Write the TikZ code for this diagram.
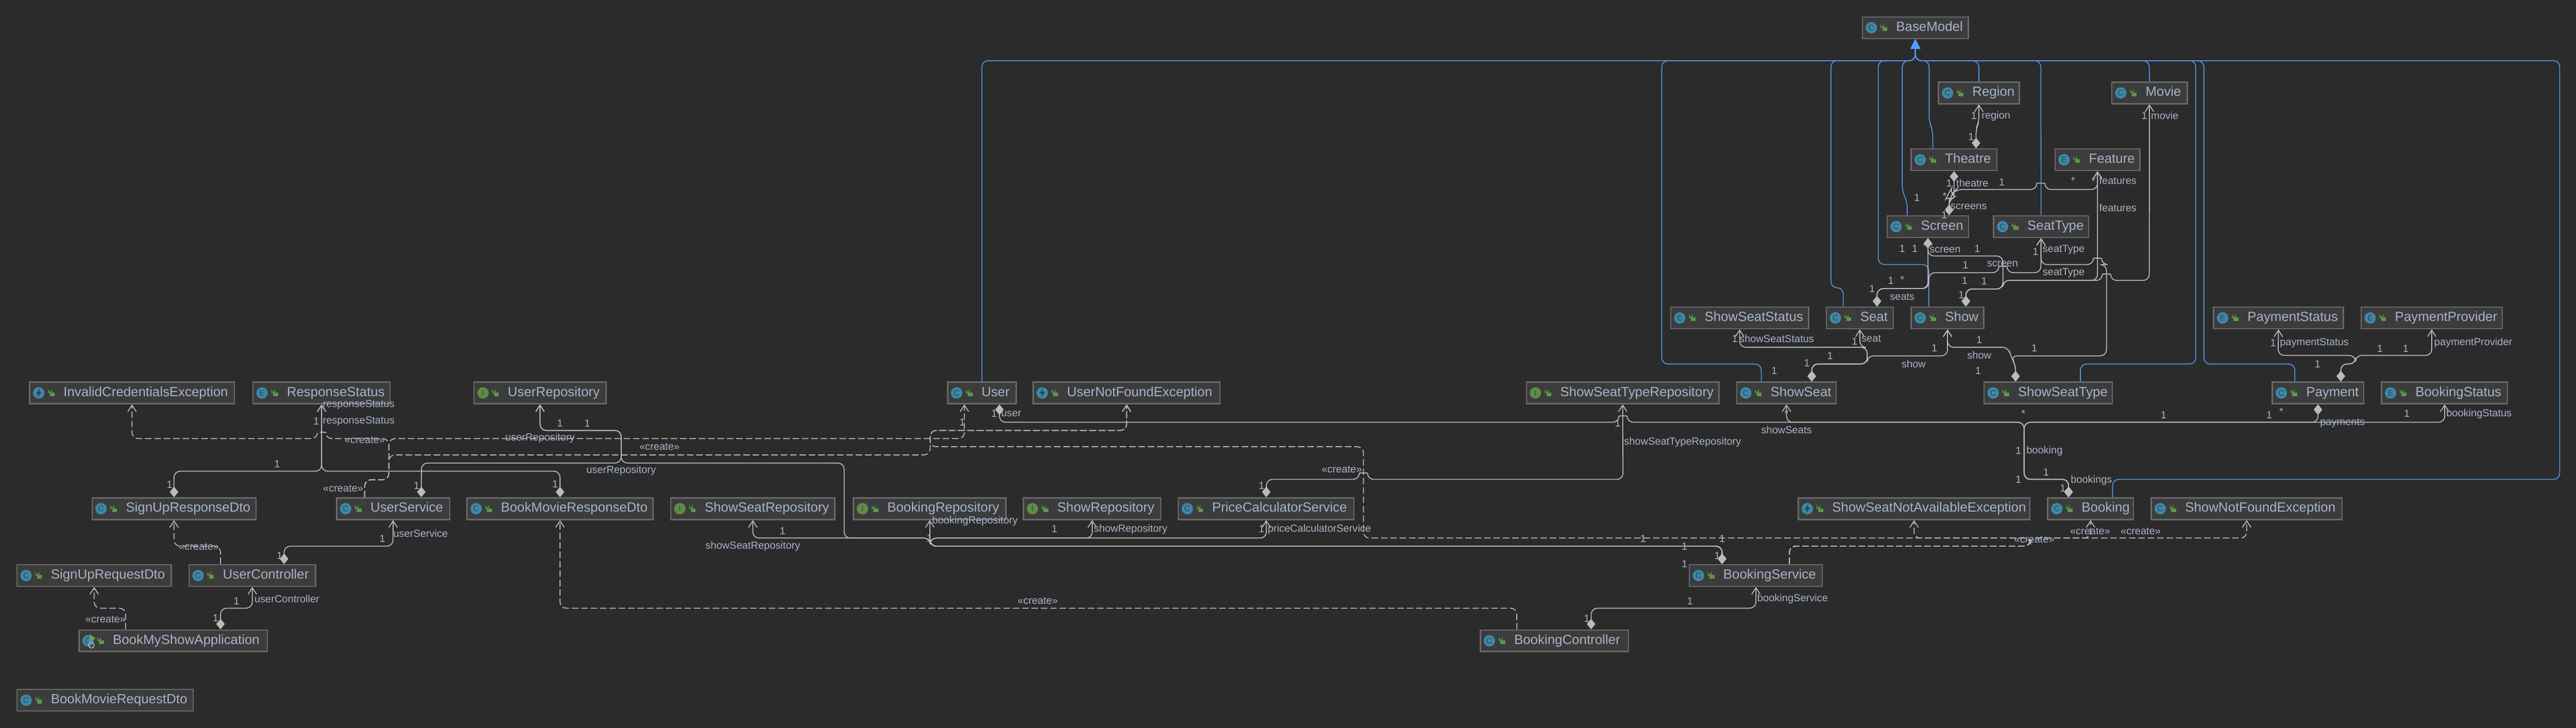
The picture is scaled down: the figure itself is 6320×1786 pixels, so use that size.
\documentclass[tikz,border=0pt]{standalone}
\usepackage{fontspec}
\setmainfont{Liberation Sans}
\usetikzlibrary{arrows.meta,calc}

\definecolor{canvas}{HTML}{2B2B2B}
\definecolor{boxfill}{HTML}{3C3C3C}
\definecolor{boxline}{HTML}{696969}
\definecolor{boxrule}{HTML}{363636}
\definecolor{ink}{HTML}{A6B4C8}
\definecolor{edgegrey}{HTML}{BBBBBB}
\definecolor{extblue}{HTML}{549DF8}
\definecolor{kindteal}{HTML}{3E88A6}
\definecolor{kindgreen}{HTML}{5F8C45}
\definecolor{kinddark}{HTML}{23485A}
\definecolor{lockgreen}{HTML}{5A9A47}

\newcommand{\hop}[3]{-- (#1,#3) .. controls (#1,#3-16) and (#2,#3-16) .. (#2,#3)}
\newcommand{\kindtextC}{C}
\newcommand{\kindtextE}{E}
\newcommand{\kindtextI}{I}
\newcommand{\kindtextX}{}

\tikzset{
    cls/.style={draw=boxline,fill=boxfill,line width=0.03cm,minimum height=0.53cm,inner xsep=0pt,inner ysep=0pt,
        align=left,text=ink,font=\fontsize{9.3}{11}\selectfont,text height=0.235cm,text depth=0.07cm},
    lbl/.style={text=ink,font=\fontsize{7.2}{9}\selectfont,inner sep=0pt},
    kicon/.style={circle,minimum size=0.28cm,inner sep=0pt,text=kinddark,font=\fontsize{5.6}{6}\selectfont},
    kindC/.style={fill=kindteal},
    kindE/.style={fill=kindteal},
    kindI/.style={fill=kindgreen},
    kindX/.style={fill=kindteal,path picture={
        \fill[kinddark,shift={(path picture bounding box.center)}] (3,-12) -- (-7,2) -- (-1,2) -- (-3,12) -- (7,-3) -- (1,-3) -- cycle;}},
    lock/.style={draw=lockgreen,line width=0.02cm},
    ext/.style={draw=extblue,line width=0.02cm,rounded corners=0.15cm,-{Triangle[length=0.24cm,width=0.24cm]}},
    comp/.style={draw=edgegrey,line width=0.022cm,rounded corners=0.15cm,
        {Diamond[length=0.26cm,width=0.21cm]}-{Straight Barb[length=0.16cm,width=0.21cm]}},
    both/.style={draw=edgegrey,line width=0.022cm,rounded corners=0.15cm,
        {Diamond[length=0.26cm,width=0.21cm]}-{Diamond[length=0.26cm,width=0.21cm]}},
    dep/.style={draw=edgegrey,line width=0.022cm,rounded corners=0.15cm,dash pattern=on 0.16cm off 0.07cm,
        -{Straight Barb[length=0.16cm,width=0.21cm]}},
}

\begin{document}
\begin{tikzpicture}[x=0.01cm,y=-0.01cm]
    \useasboundingbox[fill=canvas] (0,0) rectangle (6320,1786);

    \foreach \name/\xa/\xb/\cy/\k in {
        BaseModel/4568/4830/68/C, Region/4755/4955/228/C, Movie/5180/5367/228/C,
        Theatre/4688/4900/392/C, Feature/5041/5251/392/E, Screen/4629/4831/556/C, SeatType/4890/5125/556/C,
        ShowSeatStatus/4098/4438/780/E, Seat/4480/4646/780/C, Show/4688/4868/780/C,
        PaymentStatus/5430/5750/780/E, PaymentProvider/5792/6140/780/E,
        InvalidCredentialsException/72/576/964/X, ResponseStatus/620/958/964/E, UserRepository/1162/1488/964/I,
        User/2324/2494/964/C, UserNotFoundException/2534/2994/964/X, ShowSeatTypeRepository/3744/4218/964/I,
        ShowSeat/4260/4506/964/C, ShowSeatType/4867/5183/964/C, Payment/5574/5800/964/C, BookingStatus/5842/6153/964/E,
        SignUpResponseDto/225/629/1248/C, UserService/825/1104/1248/C, BookMovieResponseDto/1145/1603/1248/C,
        ShowSeatRepository/1645/2049/1248/I, BookingRepository/2093/2469/1248/I, ShowRepository/2510/2849/1248/I,
        PriceCalculatorService/2890/3323/1248/C, ShowSeatNotAvailableException/4411/4981/1248/X,
        Booking/5023/5235/1248/C, ShowNotFoundException/5277/5747/1248/C,
        SignUpRequestDto/41/421/1412/C, UserController/463/775/1412/C, BookingService/4144/4472/1412/C,
        BookMyShowApplication/193/657/1572/C, BookingController/3631/3996/1572/C, BookMovieRequestDto/41/475/1718/C} {
        \pgfmathsetmacro{\w}{(\xb-\xa-2)*0.28453}
        \node[cls,text width=\w pt,minimum width=\w pt] (\name) at ({(\xa+\xb)/2},\cy) {\hspace*{0.83cm}\name};
        \draw[boxrule,line width=0.01cm] (\xa+76,\cy-25) -- (\xa+76,\cy+25);
        \node[kicon,kind\k] (\name-icon) at (\xa+23,\cy) {\csname kindtext\k\endcsname};
        \fill[lockgreen] (\xa+50,\cy-1) rectangle (\xa+62,\cy+8);
        \draw[lock] (\xa+47,\cy+1) -- (\xa+47,\cy-5) arc[start angle=180,end angle=0,x radius=3.5,y radius=3.5] -- (\xa+54,\cy-2);
    }
    \fill[lockgreen!90!white] (BookMyShowApplication-icon.center) ++(4,-16) -- ++(14,10) -- ++(-14,10) -- cycle;
    \draw[edgegrey,line width=0.02cm] (BookMyShowApplication-icon.center) ++(8,11) circle[radius=7];

    % inheritance
    \draw[ext] (User.north) -- (2409,149) -- (4699,149) -- (BaseModel.south);
    \draw[ext] ($(ShowSeat.north)+(-62,0)$) -- (4321,893) -- (4077,893) -- (4077,149) -- (4699,149) -- (BaseModel.south);
    \draw[ext] ($(Seat.north)+(-41,0)$) -- (4522,706) -- (4492,706) -- (4492,149) -- (4699,149) -- (BaseModel.south);
    \draw[ext] ($(Show.north)+(-46,0)$) -- (4732,649) -- (4608,649) -- (4608,149) -- (4699,149) -- (BaseModel.south);
    \draw[ext] ($(Screen.north)+(-51,0)$) -- (4679,495) -- (4667,470) -- (4667,149) -- (4699,149) -- (BaseModel.south);
    \draw[ext] ($(Theatre.north)+(-52,0)$) -- (4742,320) -- (4733,300) -- (4733,149) -- (4699,149) -- (BaseModel.south);
    \draw[ext] (Region.north) -- (4855,149) -- (4699,149) -- (BaseModel.south);
    \draw[ext] (SeatType.north) -- (5007,149) -- (4699,149) -- (BaseModel.south);
    \draw[ext] (Movie.north) -- (5273,149) -- (4699,149) -- (BaseModel.south);
    \draw[ext] ($(ShowSeatType.north)+(79,0)$) -- (5104,893) -- (5387,893) -- (5387,149) -- (4699,149) -- (BaseModel.south);
    \draw[ext] ($(Payment.north)+(-57,0)$) -- (5630,893) -- (5407,893) -- (5407,149) -- (4699,149) -- (BaseModel.south);
    \draw[ext] ($(Booking.north)+(54,0)$) -- (5183,1176) -- (6280,1176) -- (6280,149) -- (4699,149) -- (BaseModel.south);

    % fields, upper group
    \draw[comp] ($(Theatre.north)+(54,0)$) -- (4848,315) -- (4855,300) -- (Region.south);
    \draw[both] (Theatre.south) -- (4794,468) .. controls (4794,490) and (4776,484) .. (4780,475) .. controls (4785,467) and (4792,484) .. (4783,488) -- (4782,500) -- ($(Screen.north)+(52,0)$);
    \draw[comp] ($(Screen.north)+(52,0)$) -- (4782,490) -- (4794,470) -- (4799,465) \hop{4997}{5017}{465} -- (5146,465) -- (Feature.south);
    \draw[comp] ($(Show.north)+(45,0)$) -- (4823,709) -- (4914,709) -- (4914,688) -- (5146,688) -- (Feature.south);
    \draw[comp] ($(Show.north)+(45,0)$) -- (4823,709) -- (4914,709) -- (4914,688) \hop{5158}{5178}{688} -- (5273,688) -- (Movie.south);
    \draw[comp] ($(Show.north)+(45,0)$) -- (4823,709) -- (4914,709) -- (4914,628) -- (4730,628) -- (Screen.south);
    \draw[both] ($(Seat.north)+(42,0)$) -- (4605,708) -- (4730,708) -- (Screen.south);
    \draw[comp] ($(Seat.north)+(42,0)$) -- (4605,708) -- (4732,708) -- (4732,669) \hop{4904}{4924}{669} -- (5007,669) -- (SeatType.south);
    \draw[comp] ($(ShowSeatType.north)+(-80,0)$) -- (4945,895) -- (4933,873) -- (5168,873) -- (5168,649) \hop{5156}{5136}{649} -- (5007,649) -- (SeatType.south);
    \draw[comp] ($(ShowSeatType.north)+(-80,0)$) -- (4945,895) -- (4933,875) -- (4928,852) -- (4778,852) -- (Show.south);
    \draw[comp] ($(ShowSeat.north)+(62,0)$) -- (4445,893) -- (4581,893) -- (4581,873) -- (4778,873) -- (Show.south);
    \draw[comp] ($(ShowSeat.north)+(62,0)$) -- (4445,893) -- (4581,893) -- (4581,852) -- (4563,852) -- (Seat.south);
    \draw[comp] ($(ShowSeat.north)+(62,0)$) -- (4445,893) -- (4581,893) -- (4581,852) -- (4268,852) -- (ShowSeatStatus.south);
    \draw[comp] ($(Payment.north)+(56,0)$) -- (5743,893) -- (5779,893) -- (5779,872) -- (5589,872) -- (PaymentStatus.south);
    \draw[comp] ($(Payment.north)+(56,0)$) -- (5743,893) -- (5779,893) -- (5779,872) -- (5966,872) -- (PaymentProvider.south);

    % fields, lower group
    \draw[comp] ($(Booking.north)+(-54,0)$) -- (5075,1176) -- (4966,1176) -- (4966,1036) -- (5998,1036) -- (BookingStatus.south);
    \draw[both] ($(Booking.north)+(-54,0)$) -- (5075,1176) -- (4966,1176) -- (4966,1036) -- (5687,1036) -- (Payment.south);
    \draw[comp] ($(Booking.north)+(-54,0)$) -- (5075,1176) -- (4966,1176) -- (4966,1036) -- (4383,1036) -- (ShowSeat.south);
    \draw[both] ($(Booking.north)+(-54,0)$) -- (5075,1176) -- (4966,1176) -- (4966,1036) \hop{3992}{3972}{1036} -- (2452,1036) -- ($(User.south)+(43,0)$);
    \draw[comp] (PriceCalculatorService.north) -- (3107,1176) \hop{3335}{3355}{1176} -- (3982,1176) -- (ShowSeatTypeRepository.south);
    \draw[comp] ($(BookingService.north)+(-83,0)$) -- (4225,1340) -- (2282,1340) -- (BookingRepository.south);
    \draw[comp] ($(BookingService.north)+(-83,0)$) -- (4225,1340) -- (2282,1340) -- (2282,1320) -- (2680,1320) -- (ShowRepository.south);
    \draw[comp] ($(BookingService.north)+(-83,0)$) -- (4225,1340) -- (2282,1340) -- (2282,1320) -- (3107,1320) -- (PriceCalculatorService.south);
    \draw[comp] ($(BookingService.north)+(-83,0)$) -- (4225,1340) -- (2282,1340) -- (2282,1320) -- (1847,1320) -- (ShowSeatRepository.south);
    \draw[comp] ($(BookingService.north)+(-83,0)$) -- (4225,1340) -- (2282,1340) -- (2282,1320) -- (2071,1320) -- (2071,1136) -- (1524,1136) -- (1524,1056) -- (1325,1056) -- (UserRepository.south);
    \draw[comp] ($(UserService.north)+(69,0)$) -- (1034,1136) -- (1524,1136) -- (1524,1056) -- (1325,1056) -- (UserRepository.south);
    \draw[comp] (SignUpResponseDto.north) -- (427,1156) -- (789,1156) -- (ResponseStatus.south);
    \draw[comp] (BookMovieResponseDto.north) -- (1374,1156) -- (789,1156) -- (ResponseStatus.south);
    \draw[comp] ($(UserController.north)+(78,0)$) -- (697,1340) -- (964,1340) -- (UserService.south);
    \draw[comp] ($(BookMyShowApplication.north)+(116,0)$) -- (541,1492) -- (619,1492) -- (UserController.south);
    \draw[comp] ($(BookingController.north)+(90,0)$) -- (3904,1492) -- (4308,1492) -- (BookingService.south);

    % create dependencies
    \draw[dep] ($(UserService.north)+(-70,0)$) -- (895,1177) -- (954,1177) -- (954,1076) \hop{799}{779}{1076} -- (324,1076) -- (InvalidCredentialsException.south);
    \draw[dep] ($(UserService.north)+(-70,0)$) -- (895,1177) -- (954,1177) -- (954,1076) -- (2366,1076) -- ($(User.south)+(-43,0)$);
    \draw[dep] ($(UserService.north)+(-70,0)$) -- (895,1177) -- (954,1177) -- (954,1116) -- (2282,1116) -- (2282,1056) -- (2764,1056) -- (UserNotFoundException.south);
    \draw[dep] ($(BookingService.north)+(82,0)$) -- (4390,1340) -- (4981,1340) -- (4981,1320) -- (3345,1320) -- (3345,1096) -- (2282,1096) -- (2282,1056) -- (2764,1056) -- (UserNotFoundException.south);
    \draw[dep] ($(BookingService.north)+(82,0)$) -- (4390,1340) -- (4981,1340) -- (4981,1320) -- (4696,1320) -- (ShowSeatNotAvailableException.south);
    \draw[dep] ($(BookingService.north)+(82,0)$) -- (4390,1340) -- (4981,1340) -- (4981,1320) -- (5129,1320) -- (Booking.south);
    \draw[dep] ($(BookingService.north)+(82,0)$) -- (4390,1340) -- (4981,1340) -- (4981,1320) -- (5512,1320) -- (ShowNotFoundException.south);
    \draw[dep] ($(BookingController.north)+(-92,0)$) -- (3721,1492) -- (1374,1492) -- (BookMovieResponseDto.south);
    \draw[dep] ($(UserController.north)+(-78,0)$) -- (541,1340) -- (427,1340) -- (SignUpResponseDto.south);
    \draw[dep] ($(BookMyShowApplication.north)+(-117,0)$) -- (308,1492) -- (231,1492) -- (SignUpRequestDto.south);

    \foreach \x/\y/\t [count=\i] in {
        4843/284/1, 4897/285/region, 4836/336/1, 5261/284/1, 5311/284/movie,
        4911/447/1, 5086/443/*, 5136/445/*, 5196/443/features, 5196/510/features,
        4782/449/1, 4839/449/theatre, 4703/485/1, 4771/481/*, 4830/507/screens, 4770/528/1,
        4667/610/1, 4698/610/1, 4772/613/screen, 4851/610/1, 4822/650/1, 4913/648/screen,
        4994/617/1, 5063/613/seatType, 5063/669/seatType, 4820/688/1, 4868/690/1,
        4639/688/1, 4667/686/*, 4593/708/1, 4667/728/seats, 4812/724/1,
        4256/831/1, 4359/831/showSeatStatus, 4550/837/1, 4591/831/seat, 4856/834/1, 4746/854/1, 4991/854/1,
        4856/871/show, 4695/893/show, 4490/873/1, 4433/891/1, 4353/909/1, 4853/909/1,
        5577/841/1, 5678/841/paymentStatus, 6068/841/paymentProvider, 5839/855/1, 5902/855/1, 5686/893/1,
        4383/1015/*, 4383/1055/showSeats, 4964/1015/*, 5016/1107/booking, 4952/1106/1, 4952/1176/1, 5020/1158/1,
        5131/1178/bookings, 5061/1198/1, 5308/1018/1, 5567/1018/1, 5597/1010/*, 5747/1038/payments,
        5905/1014/1, 6082/1016/bookingStatus, 3969/1039/1, 4128/1085/showSeatTypeRepository, 3095/1192/1,
        3292/1152/«create», 2546/1474/«create», 4031/1322/1, 4225/1322/1, 4133/1340/1, 4213/1363/1, 4133/1384/1,
        4991/1323/«create», 5128/1303/«create», 5252/1303/«create», 4146/1474/1, 4398/1469/bookingService, 3893/1517/1,
        1325/1075/userRepository, 1618/1096/«create», 1374/1038/1, 1441/1038/1, 1524/1155/userRepository, 1362/1188/1,
        1920/1303/1, 1847/1340/showSeatRepository, 2280/1320/1, 2392/1278/bookingRepository, 2587/1298/1,
        2774/1299/showRepository, 3095/1298/1, 3237/1299/priceCalculatorService, 2481/1015/user, 2439/1015/1, 2361/1036/1,
        880/993/responseStatus, 776/1033/1, 880/1034/responseStatus, 680/1138/1, 416/1189/1, 895/1079/«create»,
        842/1198/«create», 1022/1192/1, 1032/1309/userService, 938/1322/1, 686/1363/1, 488/1341/«create»,
        259/1519/«create», 580/1475/1, 704/1469/userController, 529/1516/1} {
        \node[lbl] (lbl\i) at (\x,\y) {\t};
    }
\end{tikzpicture}
\end{document}
